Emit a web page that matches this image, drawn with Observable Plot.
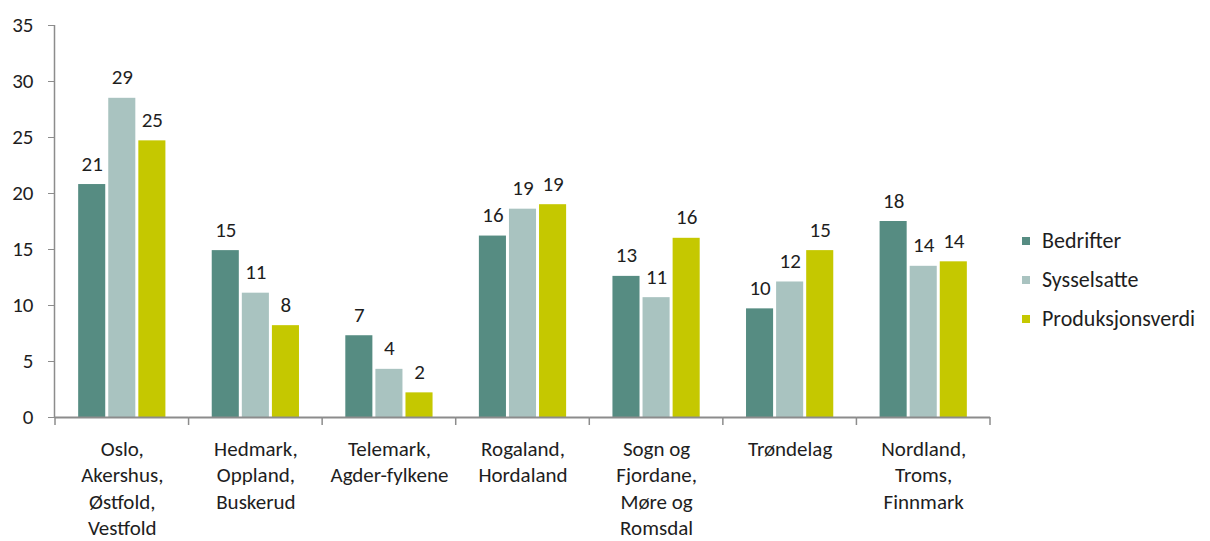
<!DOCTYPE html>
<html>
<head>
<meta charset="utf-8">
<script src="https://cdn.jsdelivr.net/npm/d3@7"></script>
<script src="https://cdn.jsdelivr.net/npm/@observablehq/plot@0.6"></script>
<style>
  html, body { margin: 0; padding: 0; background: #fff; }
  #wrap { position: relative; width: 1210px; height: 541px; overflow: hidden; font-family: Carlito, Lato, sans-serif; }
  #legend { position: absolute; left: 1022px; top: 221px; font-size: 22px; color: #1e1e1e; }
  #legend .row { display: flex; align-items: center; height: 39px; }
  #legend .sw { width: 8px; height: 8px; margin-right: 12px; }
</style>
</head>
<body>
<div id="wrap"><div id="legend"></div></div>
<script>
const categories = [
  "Oslo,\nAkershus,\nØstfold,\nVestfold",
  "Hedmark,\nOppland,\nBuskerud",
  "Telemark,\nAgder-fylkene",
  "Rogaland,\nHordaland",
  "Sogn og\nFjordane,\nMøre og\nRomsdal",
  "Trøndelag",
  "Nordland,\nTroms,\nFinnmark"
];
const series = ["Bedrifter", "Sysselsatte", "Produksjonsverdi"];
const bedrifter        = [20.8, 14.9, 7.3, 16.2, 12.6, 9.7, 17.5];
const sysselsatte      = [28.5, 11.1, 4.3, 18.6, 10.7, 12.1, 13.5];
const produksjonsverdi = [24.7, 8.2, 2.2, 19.0, 16.0, 14.9, 13.9];
const colors = ["#568c82", "#a9c3c0", "#c5c800"];
const yTicks = [0, 5, 10, 15, 20, 25, 30, 35];

const valuesBySeries = [bedrifter, sysselsatte, produksjonsverdi];
const data = [];
categories.forEach((c, i) => series.forEach((s, j) => data.push({category: c, series: s, value: valuesBySeries[j][i]})));

const fmt = d3.format(".0f");
const font = "Carlito, Lato, sans-serif";

const plot = Plot.plot({
  width: 1210,
  height: 541,
  marginLeft: 55,
  marginRight: 220,
  marginTop: 25,
  marginBottom: 124,
  style: {fontFamily: font, fontSize: "20px", color: "#1e1e1e", background: "transparent"},
  fx: {domain: categories, padding: 0, round: false},
  x: {domain: series, paddingInner: 0.1, paddingOuter: 0.77, round: false, axis: null},
  y: {domain: [0, 35]},
  color: {domain: series, range: colors},
  marks: [
    Plot.barY(data, {fx: "category", x: "series", y: "value", fill: "series"}),
    Plot.text(data, {fx: "category", x: "series", y: "value", text: d => fmt(d.value), lineAnchor: "bottom", dy: -14, fontSize: 21, fill: "#1e1e1e"}),
    Plot.ruleY([0], {stroke: "#8c8c8c", strokeWidth: 2}),
    Plot.axisY({ticks: yTicks, tickSize: 7, tickPadding: 15, stroke: "#8c8c8c", fill: "#1e1e1e", fontSize: 21, label: null}),
    Plot.axisFx({anchor: "bottom", tickSize: 0, tickPadding: 20, fontSize: 21, lineHeight: 1.25, fill: "#1e1e1e", label: null})
  ]
});

// axis line and group-boundary ticks, placed from the library's scales
const fxScale = plot.scale("fx");
const yScale = plot.scale("y");
const y0 = yScale.range[0], yTop = yScale.range[1];
const bandStart = d => (fxScale.apply ? fxScale.apply(d) : fxScale.range[0] + categories.indexOf(d) * fxScale.step);
const edges = categories.map(bandStart);
edges.push(edges[edges.length - 1] + fxScale.bandwidth);
const svg = d3.select(plot);
const g = svg.append("g").attr("stroke", "#8c8c8c");
g.append("line").attr("x1", edges[0] - 0.5).attr("x2", edges[0] - 0.5).attr("y1", yTop).attr("y2", y0).attr("stroke-width", 1.5);
edges.forEach(x => {
  g.append("line").attr("x1", x).attr("x2", x).attr("y1", y0).attr("y2", y0 + 8).attr("stroke-width", 1.5);
});

document.getElementById("wrap").prepend(plot);

const legend = d3.select("#legend");
series.forEach((s, i) => {
  const row = legend.append("div").attr("class", "row");
  row.append("div").attr("class", "sw").style("background", colors[i]);
  row.append("span").text(s);
});
</script>
</body>
</html>
